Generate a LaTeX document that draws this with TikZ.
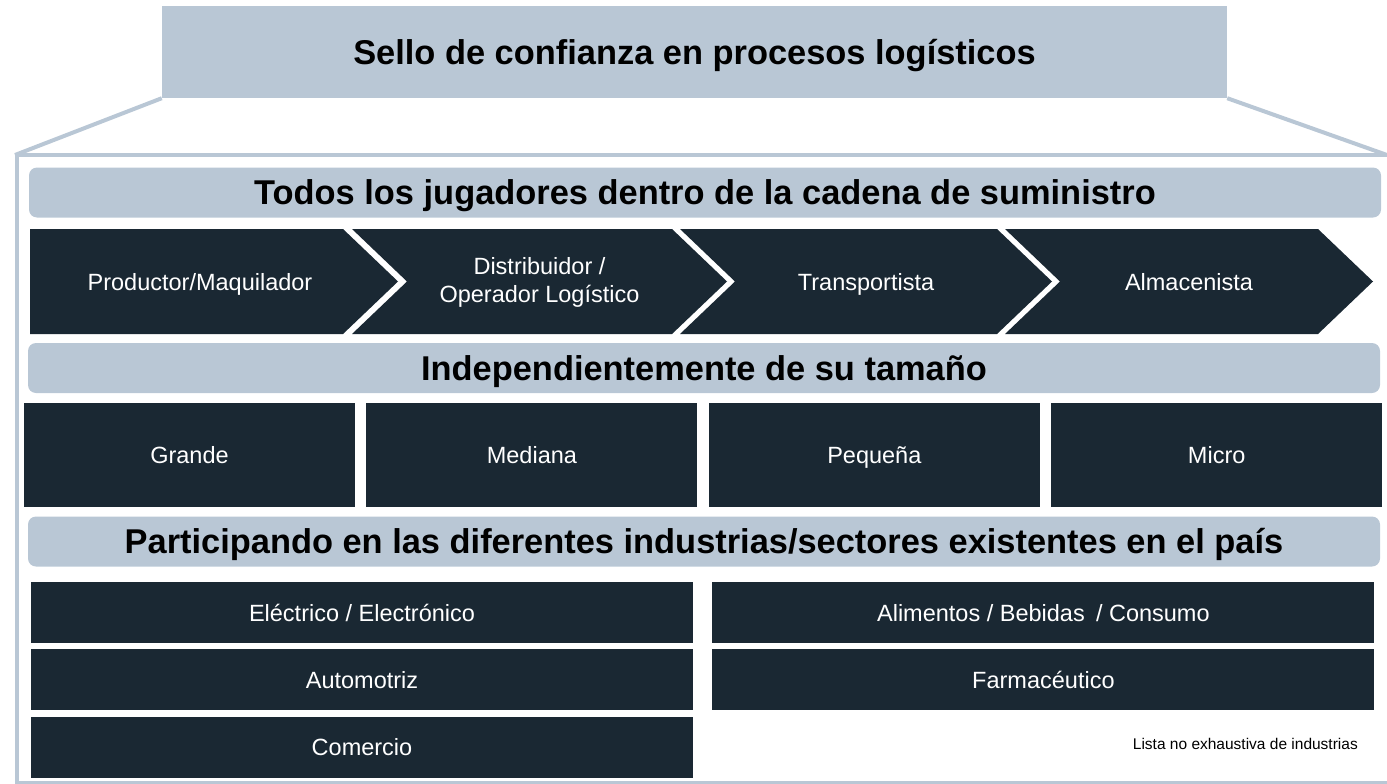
\documentclass[tikz,border=0pt]{standalone}
\usepackage{fontspec}
\setmainfont{Liberation Sans}
\usetikzlibrary{positioning}
\definecolor{navy}{HTML}{1A2833}
\definecolor{steel}{HTML}{B9C7D5}

\begin{document}
\begin{tikzpicture}[x=1pt,y=-1pt,
        head/.style={fill=steel, inner sep=0pt, text height=25pt, text depth=1pt, font=\fontsize{34.4}{40}\selectfont\bfseries},
        band/.style={head, rounded corners=8pt, minimum width=1352pt, minimum height=50pt},
        tile/.style={fill=navy, text=white, inner sep=0pt, text height=17pt, text depth=0pt, font=\fontsize{23.5}{28}\selectfont},
        sizebox/.style={tile, minimum width=331pt, minimum height=104pt},
        sectorbox/.style={tile, minimum width=662pt, minimum height=61pt},
        chevlabel/.style={text=white, inner sep=0pt, align=center, font=\fontsize{23.5}{28}\selectfont},
        frame/.style={draw=steel, line width=4pt}
    ]
        \useasboundingbox (0,0) rectangle (1387,784);

        % titulo y marco
        \node[head, minimum width=1065pt, minimum height=92pt] (title) at (694.5,52) {Sello de confianza en procesos logísticos};
        \coordinate (fl) at (15,155);
        \coordinate (fr) at (1387,155);
        \draw[frame] (title.south west) -- (fl);
        \draw[frame] (title.south east) -- (fr);
        \draw[frame] (17,155) -- (1400,155);
        \draw[frame] (17,155) -- (17,783) -- (1400,783);

        % cadena de suministro
        \node[band] (chain) at (705,192.5) {Todos los jugadores dentro de la cadena de suministro};
        \fill[navy] (30,229) -- (343,229) -- (398,281.5) -- (343,334) -- (30,334) -- cycle;
        \foreach \a/\b in {352/672, 680/997, 1005/1318}
            \fill[navy] (\a,229) -- (\b,229) -- (\b+55,281.5) -- (\b,334) -- (\a,334) -- (\a+55,281.5) -- cycle;
        \node[chevlabel, text height=17pt, text depth=0pt] (prod) at (200,281.5) {Productor/Maquilador};
        \node[chevlabel] (dist) at (539.5,282) {Distribuidor /\\Operador Logístico};
        \node[chevlabel, text height=17pt, text depth=0pt] (trans) at (866,281.5) {Transportista};
        \node[chevlabel, text height=17pt, text depth=0pt] (alm) at (1189,281.5) {Almacenista};

        % tamano
        \node[band] (size) at (704,368) {Independientemente de su tamaño};
        \node[sizebox] (grande) at (189.5,455) {Grande};
        \node[sizebox, right=11pt of grande] (mediana) {Mediana};
        \node[sizebox, right=11pt of mediana] (pequena) {Pequeña};
        \node[sizebox, right=11pt of pequena] (micro) {Micro};

        % industrias
        \node[band] (sector) at (704,541.5) {Participando en las diferentes industrias/sectores existentes en el país};
        \node[sectorbox] (elec) at (362,612.5) {Eléctrico / Electrónico};
        \node[sectorbox, below=6pt of elec] (auto) {Automotriz};
        \node[sectorbox, below=6pt of auto] (comercio) {Comercio};
        \node[sectorbox, right=19pt of elec] (alim) {Alimentos / Bebidas\hspace{0.2em} / Consumo};
        \node[sectorbox, below=6pt of alim] (farma) {Farmacéutico};
        \node[font=\fontsize{15.5}{18}\selectfont, inner sep=0pt, anchor=east] (note) at (1358,744) {Lista no exhaustiva de industrias};
\end{tikzpicture}
\end{document}
